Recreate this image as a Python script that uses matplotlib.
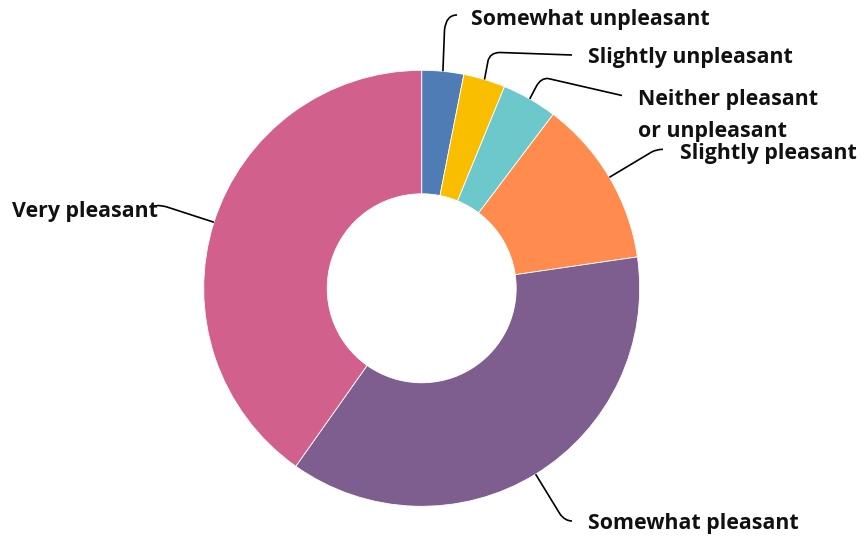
import matplotlib.pyplot as plt
import numpy as np
from matplotlib.path import Path
from matplotlib.patches import PathPatch

labels = ['Somewhat unpleasant', 'Slightly unpleasant',
          'Neither pleasant\nor unpleasant', 'Slightly pleasant',
          'Somewhat pleasant', 'Very pleasant']
values = [3.1, 3.1, 4.1, 12.4, 37.1, 40.2]
colors = ['#507CB6', '#F9BE00', '#6CC8CB', '#FF8B4F', '#7E5E8E', '#D2608D']

W, H = 867, 540
cx, cy = 421.7, 288.3      # pixel coords, y from top
r_out, r_in = 218, 94.5

# label layout: text pos, then leader bend (p1, ctrl, p2, end) in pixel coords (y from top)
text_pos = [(471, 19), (588, 58), (638, 115.5), (680, 153), (588, 523), (12, 211)]
leaders = [
    [(444.5, 30), (446, 15), (457, 15), (457, 15)],
    [(488, 61), (490, 52.5), (500, 52.5), (572, 55)],
    [(536.5, 86), (541, 78), (548, 78.5), (622, 95.5)],
    [(650, 153), (655, 149.5), (663, 149.3), (663, 149.3)],
    [(560, 514), (565, 521), (572, 521), (572, 521)],
    [(167, 207), (162, 205.5), (157, 205.5), (157, 205.5)],
]

plt.rcParams['font.family'] = ['Open Sans', 'DejaVu Sans']

fig = plt.figure(figsize=(W / 100, H / 100), dpi=100)
ax = fig.add_axes([0, 0, 1, 1])

fy = lambda y: H - y

wedges, _ = ax.pie(values, colors=colors, startangle=90, counterclock=False,
                   center=(cx, fy(cy)), radius=r_out,
                   wedgeprops=dict(width=r_out - r_in, edgecolor='white', linewidth=0.6),
                   frame=True)
ax.set_xlim(0, W)
ax.set_ylim(0, H)
ax.set_aspect('equal')
ax.axis('off')

for w, lab, tp, ld in zip(wedges, labels, text_pos, leaders):
    ang = np.deg2rad((w.theta1 + w.theta2) / 2)
    ax_ = cx + r_out * np.cos(ang)
    ay_ = fy(cy) + r_out * np.sin(ang)
    pts = [(ax_, ay_)] + [(x, fy(y)) for x, y in ld]
    codes = [Path.MOVETO, Path.LINETO, Path.CURVE3, Path.CURVE3, Path.LINETO]
    ax.add_patch(PathPatch(Path(pts, codes), fill=False, lw=1.2, color='black'))
    ax.text(tp[0], fy(tp[1]), lab, ha='left', va='center', fontsize=15.4,
            fontweight='bold', color='#111111', linespacing=1.68)

fig.savefig('out.png', dpi=100)
